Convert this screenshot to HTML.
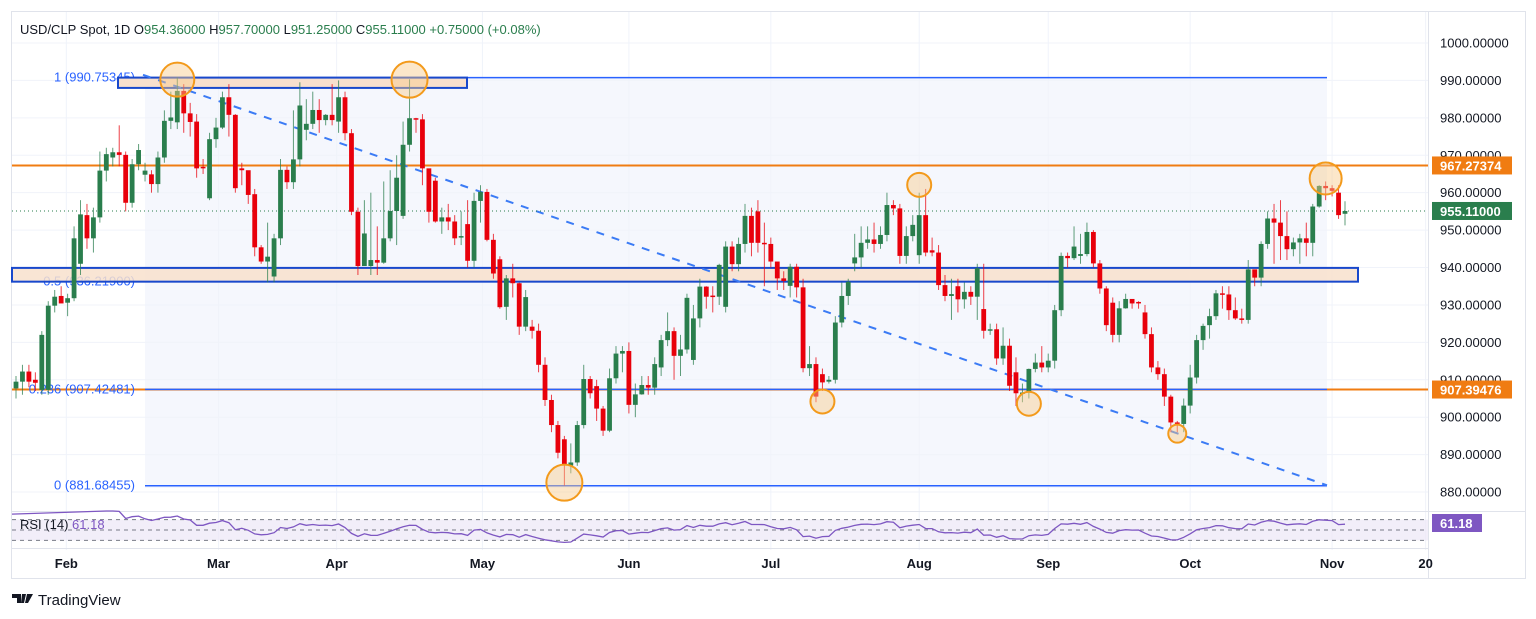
<!DOCTYPE html>
<html><head><meta charset="utf-8">
<style>
html,body{margin:0;padding:0;background:#fff;}
svg{display:block;font-family:"Liberation Sans",sans-serif;}
</style></head>
<body>
<svg id="chart" width="1536" height="619" viewBox="0 0 1536 619" xmlns="http://www.w3.org/2000/svg">
  <rect x="0" y="0" width="1536" height="619" fill="#ffffff"/>
  <rect x="11.5" y="11.5" width="1514" height="567" fill="none" stroke="#e0e3eb"/>
  <rect x="145" y="77" width="1182" height="411" fill="#f5f7fd"/>
  <g id="grid"></g>
  <g id="drawings"></g>
  <g id="candles"></g>
  <g id="overlay"></g>
  <g id="axis"></g>
  <g id="rsi"></g>
  <text x="20" y="34" font-size="13" fill="#131722">USD/CLP Spot, 1D <tspan fill="#131722">O</tspan><tspan fill="#2a7e4d">954.36000</tspan> <tspan fill="#131722">H</tspan><tspan fill="#2a7e4d">957.70000</tspan> <tspan fill="#131722">L</tspan><tspan fill="#2a7e4d">951.25000</tspan> <tspan fill="#131722">C</tspan><tspan fill="#2a7e4d">955.11000 +0.75000 (+0.08%)</tspan></text>
  <g>
    <path d="M12 594h9v9h-4v-5h-5z M22 594h4l-2 9h-3z M27 594h6l-5 9h-3z" fill="#131722"/>
    <text x="38" y="605" font-size="15" fill="#131722">TradingView</text>
  </g>
</svg>
<script>
const opens=[907.7,909.5,912.2,910,907.3,907.3,929.8,932.4,930.6,931.8,941,954,947.8,953.4,965.9,969.4,970.8,970.1,957.3,967.6,964.8,964.9,962.3,969.4,979.2,978.8,987.2,981.2,979,966.9,958.5,974.3,977.4,985.5,980.8,966.5,966,959.6,945.4,941.6,937.6,947.8,966.1,962.8,968.9,976.8,978.4,982.1,979.4,980.8,979,985.5,975.9,954.9,940.4,940.4,942,941.3,947.8,955.1,953.8,972.8,979.9,979.6,966.5,963.2,952.3,953.4,952.3,948.2,951.6,941.8,957.8,960.2,947.4,942.2,929.5,937.1,935.8,924.2,924.2,923.1,914,904.6,897.9,894.1,887.1,887.9,897.9,910.2,908.3,902.3,896.4,910.4,917,917.7,903.3,906.1,908.6,907.9,913.3,920.6,923,916.4,918.1,915.3,926.4,934.9,932.5,932.2,929.5,945.6,940.9,946.3,953.8,955,946.6,946.3,941.6,937.1,935.1,940.2,934.7,913.1,914.2,911.5,909.5,910,925.3,932.4,941.1,942.7,946.6,947.5,946.3,948.7,956.7,955.8,943.1,948.4,943.3,954,944.6,944,935.3,932.4,935,931.5,933.5,932.2,928.9,923.1,923.5,915.7,919.1,912,906.2,906.6,912.9,914.6,913.3,915.1,928.6,943.1,942.5,943.1,943.6,949.5,941.1,934.4,930.6,922,929.1,931.6,930.8,928,922.2,913.3,911.5,905.5,898.6,898.2,903.1,910.6,920.6,924.6,927,933.1,932.8,928.6,926.4,926,939.5,937.3,946.3,953.1,952,948.4,944.9,946.7,947.8,946.6,956.3,961.8,961.2,960,954.36];
const closes=[909.5,912.2,909.5,909.2,922,929.8,932.2,930.4,931.8,947.8,954.2,947.8,953.4,965.9,970.3,970.8,970.1,957.3,967.6,971.4,965.9,962.3,969.4,979.2,980.1,987.2,981.2,978.9,966.5,966.5,974.3,977.4,985.5,980.8,961.2,966,959.4,945.4,941.6,942.9,947.8,966.1,962.8,968.9,983.3,978.4,982.1,979.4,980.8,979.4,985.5,975.9,954.9,940.4,949.1,942,941.3,947.8,955.1,964,972.8,979.9,979.6,966.5,954.9,952.3,953.4,952.3,947.8,948.4,941.8,957.8,960.2,947.4,938.4,929.4,937.1,935.8,924.2,932.1,923.1,914,904.6,897.9,890.5,887.1,887.9,897.9,910.2,906.4,902.3,896.4,910.4,917,917.7,903.3,906.1,908.6,907.9,914.2,920.6,923,916.4,918.1,931.9,926.4,934.9,932.2,932.2,940.7,945.6,940.9,946.3,953.8,946.6,946.6,946.3,941.6,937.1,936.4,940.2,934.7,913.1,914.2,905.5,909.3,910,925.3,932.4,936.2,942.7,946.6,947.5,946.3,948.7,956.7,955.8,943.1,948.4,951.4,954,944,944,935.3,932.4,932.9,931.5,933.5,932.2,939.8,923.1,923.5,915.7,919.1,908.4,906.4,906.6,912.9,914.6,913.3,915.1,928.6,943.1,942.5,945.6,943.6,949.5,941.1,934.4,924.6,922,929.1,931.6,930.4,930.6,922.2,913.3,911.5,905.5,898.6,898.2,903.1,910.6,920.6,924.4,927,933.1,932.8,928.6,926.4,926.1,939.5,937.3,946.3,953.1,952,948.4,944.9,946.7,947.8,946.6,956.3,961.8,961.2,960.5,954,955.11];
const highs=[911,914,914,912,923,931,934,935,933,951,958,957,956,971,972,972,978,971,969,973,968,966,971,982,987,990.8,989,984,981,969,976,980,987,989,981,968,961,961,946,952,949,969,967,982,989.5,985,987,985,981,989,990,987,977,956,958,960,951,963,966,970,979,990.3,980,981,966,964,956,957,954,955,958,960,962,961,949,943,938,941,936,934,926,925,916,906,899,895,893,899,914,911,910,903,913,919,919,920,909,911,911,916,922,928,924,922,933,930,937,935,935,941,947,947,948,957,956,958,952,948,939,939,941,941,937,919,916,913,911,927,936,937,949,951,951,952,951,960,958,957,951,954,960,961,948,946,938,937,937,936,935,941,941,925,925,924,921,916,909,913,917,919,917,930,944,944,951,949,952,950,942,935,932,931,933,931,931,930,924,915,913,906,899,905,914,922,925,929,934,935,935,932,929,942,939,947,955,957,958,955,948,949,952,957,962,963,962,962,957.7];
const lows=[905,906,908,907,906,906,928,931,927,931,938,945,944,952,963,967,967,955,956,966,963,960,960,968,977,977,976,975,964,965,958,972,977,975,960,962,957,943,941,936,936,946,961,961,967,974,977,976,978,978,976,974,954,938,941,938,938,941,947,946,953,971,976,962,952,952,949,950,946,946,940,940,952,947,937,929,926,932,922,923,921,912,903,896,889,881.7,885,887,897,905,899,895,896,909,912,901,900,906,906,906,911,919,910,911,917,914,924,929,928,930,928,939,939,944,943,944,935,940,934,934,932,932,912,911,904,907,909,909,924,930,939,940,945,944,945,947,954,941,941,947,941,943,943,934,931,926,928,929,930,926,921,922,914,914,907,903,904,905,912,912,912,913,927,940,942,941,943,940,933,923,920,920,929,929,929,921,912,910,903,896,896,896,901,909,918,921,926,929,926,926,925,925,935,935,945,941,942,942,943,941,943,943,956,958,959,953,951.25];
const monthLabels=["Feb","Mar","Apr","May","Jun","Jul","Aug","Sep","Oct","Nov","20"];
const monthBarIndex=[7.8,31.4,49.7,72.3,95,117,140,160,182,204,218.5];
const priceTicks=[1000,990,980,970,960,950,940,930,920,910,900,890,880];
const lastPrice=955.11;
const hLineOrange1=967.27374, hLineOrange2=907.39476;
const fibLevels=[1,0.5,0.236,0];
const fibPrices=[990.75345,936.219,907.42481,881.68455];
const rsiPeriod=14;

const NS="http://www.w3.org/2000/svg";
const X0=16, X1=1345, N=closes.length;
function xOf(i){return X0+i*(X1-X0)/(N-1);}
function yOf(p){return 43+(1000-p)*3.742;}
function el(tag,attrs,parent){const e=document.createElementNS(NS,tag);for(const k in attrs)e.setAttribute(k,attrs[k]);parent.appendChild(e);return e;}
const grid=document.getElementById('grid'),draw=document.getElementById('drawings'),cg=document.getElementById('candles'),ov=document.getElementById('overlay'),ax=document.getElementById('axis'),rg=document.getElementById('rsi');

priceTicks.forEach(p=>{const l=el('line',{x1:12,x2:1428,y1:yOf(p),y2:yOf(p),stroke:'#f0f3fa','stroke-width':1},grid);

});
monthLabels.forEach((m,k)=>{const x=xOf(monthBarIndex[k]);const l=el('line',{x1:x,x2:x,y1:12,y2:550,stroke:'#f0f3fa','stroke-width':1},grid);

});

el('line',{x1:1428.5,x2:1428.5,y1:12,y2:578,stroke:'#e0e3eb'},ax);
el('line',{x1:12,x2:1525,y1:511.5,y2:511.5,stroke:'#e0e3eb'},ax);
el('line',{x1:12,x2:1428,y1:548.5,y2:548.5,stroke:'#e0e3eb'},ax);

[hLineOrange1,hLineOrange2].forEach((p,k)=>{const l=el('line',{x1:12,x2:1428,y1:yOf(p),y2:yOf(p),stroke:'#f07c12','stroke-width':2},draw);

});

const fibX0=145,fibX1=1327;
fibPrices.forEach((p,k)=>{const y=yOf(p);
 if(k!==1){const l=el('line',{x1:k===0?118:fibX0,x2:fibX1,y1:y,y2:y,stroke:'#2962ff','stroke-width':1.5},draw);
 
 }
 const t=el('text',{x:fibX0-10,y:y+4,'text-anchor':'end','font-size':13,fill:'#2962ff'},draw);
 t.textContent=fibLevels[k]+' ('+p.toFixed(5)+')';
 
 });

const boxTop=el('rect',{x:118,y:yOf(990.75),width:349,height:yOf(988)-yOf(990.75),fill:'#f8e0cd',stroke:'#1848cc','stroke-width':2},draw);


const boxMid=el('rect',{x:12,y:yOf(939.9),width:1346,height:yOf(936.22)-yOf(939.9),fill:'#f8e0cd','fill-opacity':0.85,stroke:'#1848cc','stroke-width':2},draw);



const tl=el('line',{x1:143,y1:yOf(991.5),x2:1327,y2:yOf(881.8),stroke:'#3b7bf5','stroke-width':2,'stroke-dasharray':'8 8'},draw);



const lp=el('line',{x1:12,x2:1428,y1:yOf(lastPrice),y2:yOf(lastPrice),stroke:'#2a7e4d','stroke-width':1,'stroke-dasharray':'1 3'},draw);



for(let i=0;i<N;i++){
 const up=closes[i]>=opens[i];const col=up?'#2a7e4d':'#e8000b';const x=xOf(i);
 const g=el('g',{},cg);
 
 
 el('line',{x1:x,x2:x,y1:yOf(highs[i]),y2:yOf(lows[i]),stroke:col,'stroke-width':1,'stroke-opacity':0.75},g);
 const yt=yOf(Math.max(opens[i],closes[i])),yb=yOf(Math.min(opens[i],closes[i]));
 el('rect',{x:x-2.4,y:yt,width:4.8,height:Math.max(1.5,yb-yt),fill:col},g);
}

const circles=[[25,990.2,17],[61,990.2,18],[203,963.8,16],[140,962.1,12],[125,904.2,12],[157,903.6,12],[180,895.6,9],[85,882.5,18]];
circles.forEach(c=>{const ci=el('circle',{cx:xOf(c[0]),cy:yOf(c[1]),r:c[2],fill:'#f8c98a','fill-opacity':0.45,stroke:'#f39a1b','stroke-width':2},ov);

});

priceTicks.forEach(p=>{const t=el('text',{x:1440,y:yOf(p)+4.5,'font-size':13,fill:'#131722'},ax);t.textContent=p.toFixed(5);

});
[[hLineOrange1,'#f07c12'],[lastPrice,'#2a7e4d'],[hLineOrange2,'#f07c12']].forEach(d=>{const y=yOf(d[0]);
 const r=el('rect',{x:1432,y:y-9,width:80,height:18,fill:d[1]},ax);
 
 
 const t=el('text',{x:1440,y:y+5,'font-size':13,'font-weight':'bold',fill:'#fff'},ax);t.textContent=d[0].toFixed(5);
 
 });

monthLabels.forEach((m,k)=>{const t=el('text',{x:xOf(monthBarIndex[k]),y:568,'text-anchor':'middle','font-size':13,'font-weight':'bold',fill:'#131722'},ax);t.textContent=m;

});

const rsi=[];let ag=0,al=0;
for(let i=1;i<N;i++){const d=closes[i]-closes[i-1];const g=Math.max(d,0),l=Math.max(-d,0);
 if(i<=rsiPeriod){ag+=g/rsiPeriod;al+=l/rsiPeriod;if(i===rsiPeriod)rsi[i]=100-100/(1+ag/(al||1e-9));}
 else{ag=(ag*(rsiPeriod-1)+g)/rsiPeriod;al=(al*(rsiPeriod-1)+l)/rsiPeriod;rsi[i]=100-100/(1+ag/(al||1e-9));}}
function yR(v){return 530-(v-50)*0.52;}
const band=el('rect',{x:12,y:yR(70),width:1416,height:yR(30)-yR(70),fill:'#ede7f6','fill-opacity':0.7},rg);


[70,50,30].forEach(v=>{const l=el('line',{x1:12,x2:1428,y1:yR(v),y2:yR(v),stroke:'#787b86','stroke-width':1,'stroke-dasharray':'4 4'},rg);

});
let pts=[];
for(let i=0;i<N;i++){if(rsi[i]!==undefined){if(!pts.length)pts.push('12,'+yR(rsi[i]-6).toFixed(1));pts.push(xOf(i).toFixed(1)+','+yR(rsi[i]).toFixed(1));}}
const rl=el('polyline',{points:pts.join(' '),fill:'none',stroke:'#7e57c2','stroke-width':1.3},rg);


const rt=el('text',{x:20,y:529,'font-size':13,fill:'#131722'},rg);rt.innerHTML='RSI (14) <tspan fill="#7e57c2">61.18</tspan>';


const rb=el('rect',{x:1432,y:514,width:50,height:18,fill:'#7e57c2'},rg);


const rbt=el('text',{x:1440,y:528,'font-size':13,'font-weight':'bold',fill:'#fff'},rg);rbt.textContent='61.18';


</script>
</body></html>
